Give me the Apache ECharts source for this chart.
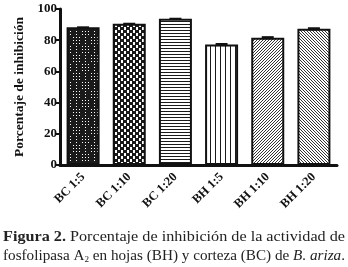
<!DOCTYPE html>
<html><head><meta charset="utf-8">
<script src="https://cdn.jsdelivr.net/npm/echarts@6/dist/echarts.min.js"></script>
<style>html,body{margin:0;padding:0;background:#fff}#c{width:348px;height:267px}</style>
</head><body><div id="c"></div>
<script>
var categories = ['BC 1:5','BC 1:10','BC 1:20','BH 1:5','BH 1:10','BH 1:20'];
var values = [88.3, 90.6, 93.8, 77.2, 81.6, 87.3];
var errors = [0.6, 0.6, 0.6, 1.0, 1.0, 1.0];
var yTicks = [0, 20, 40, 60, 80, 100];

function tile(w, h, draw) {
  var c = document.createElement('canvas'); c.width = w; c.height = h;
  var g = c.getContext('2d'); draw(g, w, h); return c;
}
var patterns = [
  tile(18, 18, function(g){ g.fillStyle='#1a1a1a'; g.fillRect(0,0,18,18); g.fillStyle='#fff';
    for (var y=0;y<18;y+=3) for (var x=0;x<18;x+=3){ var bx=Math.floor(x/9), by=Math.floor(y/9); if ((bx+by)%2===0 || x%9===3) g.fillRect(x+1,y+1,1,1);} }),
  tile(6, 6, function(g){ g.fillStyle='#1a1a1a'; g.fillRect(0,0,6,6); g.fillStyle='#fff'; g.fillRect(0,0,3,3); g.fillRect(3,3,3,3); g.fillStyle='#1a1a1a'; g.fillRect(0,0,1,3); g.fillRect(3,3,1,3);}),
  tile(4, 3, function(g){ g.fillStyle='#fff'; g.fillRect(0,0,4,3); g.fillStyle='#1a1a1a'; g.fillRect(0,0,4,1); }),
  tile(5, 4, function(g){ g.fillStyle='#fff'; g.fillRect(0,0,5,4); g.fillStyle='#1a1a1a'; g.fillRect(0,0,1,4); }),
  tile(3, 3, function(g){ g.fillStyle='#fff'; g.fillRect(0,0,3,3); g.fillStyle='#333'; for (var i=0;i<3;i++){ g.fillRect(i,2-i,1,1);} }),
  tile(3, 3, function(g){ g.fillStyle='#fff'; g.fillRect(0,0,3,3); g.fillStyle='#333'; for (var i=0;i<3;i++){ g.fillRect(i,i,1,1);} })
];

var serif = '"Liberation Serif","DejaVu Serif",serif';
var rich = {b: {fontWeight: 'bold', fontFamily: serif, fontSize: 15, fill: '#222'},
            s: {fontSize: 9, fontFamily: serif, verticalAlign: 'bottom', padding: [7,0,0,0]},
            i: {fontStyle: 'italic', fontFamily: serif, fontSize: 15}};
var line1 = '{b|Figura 2.} Porcentaje de inhibición de la actividad de';
var line2 = 'fosfolipasa A{s|2} en hojas (BH) y corteza (BC) de {i|B. ariza}.';
function fitScale(t, target) {
  var el = new echarts.graphic.Text({style: {text: t, font: '15px ' + serif, rich: rich}});
  var w = el.getBoundingRect().width;
  return target / w;
}
var s1 = fitScale(line1, 342), s2 = fitScale(line2, 342);

var chart = echarts.init(document.getElementById('c'));
chart.setOption({
  animation: false,
  grid: {left: 60, right: 11, top: 9, bottom: 102},
  xAxis: {
    type: 'category', data: categories,
    axisLine: {lineStyle: {color: '#111', width: 3}},
    axisTick: {alignWithLabel: true, length: 4, lineStyle: {color: '#111', width: 2}},
    axisLabel: {rotate: 45, fontFamily: serif, fontWeight: 'bold', fontSize: 12.5, color: '#111', margin: 10}
  },
  yAxis: {
    type: 'value', min: 0, max: 100, interval: 20,
    name: 'Porcentaje de inhibición', nameLocation: 'middle', nameGap: 30,
    nameTextStyle: {fontFamily: serif, fontWeight: 'bold', fontSize: 13.5, color: '#111'},
    axisLine: {show: true, lineStyle: {color: '#111', width: 3}},
    axisTick: {show: true, length: 4, lineStyle: {color: '#111', width: 2}},
    splitLine: {show: false},
    axisLabel: {fontFamily: serif, fontWeight: 'bold', fontSize: 13, color: '#111', margin: 3,
      formatter: function(v){ return yTicks.indexOf(v) >= 0 ? String(v) : ''; }}
  },
  series: [{
    type: 'bar', barWidth: 33,
    data: values.map(function(v, i){ return {value: v, itemStyle: {color: {image: patterns[i], repeat: 'repeat'}, borderColor: '#111', borderWidth: 2}}; })
  }, {
    type: 'custom',
    data: values.map(function(v, i){ return [i, v - errors[i], v + errors[i]]; }),
    renderItem: function(params, api) {
      var lo = api.coord([api.value(0), api.value(1)]);
      var hi = api.coord([api.value(0), api.value(2)]);
      var hw = 6;
      return {type: 'rect', shape: {x: hi[0]-hw, y: hi[1], width: hw*2, height: Math.max(2, lo[1]-hi[1])}, style: {fill: '#111'}};
    },
    z: 5
  }],
  graphic: [{
    type: 'text', x: 3, y: 230, scaleX: s1,
    style: {text: line1, font: '15px ' + serif, fill: '#222', rich: rich}
  }, {
    type: 'text', x: 3, y: 248, scaleX: s2,
    style: {text: line2, font: '15px ' + serif, fill: '#222', rich: rich}
  }]
});
</script></body></html>
